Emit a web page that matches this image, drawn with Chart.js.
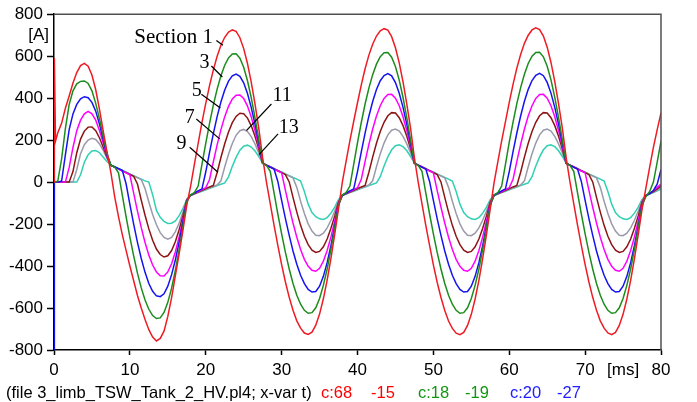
<!DOCTYPE html>
<html>
<head>
<meta charset="utf-8">
<script src="https://cdn.jsdelivr.net/npm/chart.js@4.4.1/dist/chart.umd.min.js"></script>
<style>
  html, body { margin: 0; padding: 0; background: #fff; }
  #wrap { width: 697px; height: 402px; }
</style>
</head>
<body>
<div id="wrap"><canvas id="currentChart" width="697" height="402"></canvas></div>
<script>
// sample times [ms]
const timeMs = [
  0, 0.05, 0.2, 0.5, 1, 1.5, 2, 2.5, 3, 3.5, 4, 4.5, 5, 5.5, 6, 6.5, 7, 7.5, 8, 8.5, 9, 9.5, 10, 10.5, 11, 11.5, 12, 12.5, 13, 13.5, 14, 14.5, 15, 15.5, 16, 16.5, 17, 17.5, 18, 18.5, 19, 19.5,
  20, 20.5, 21, 21.5, 22, 22.5, 23, 23.5, 24, 24.5, 25, 25.5, 26, 26.5, 27, 27.5, 28, 28.5, 29, 29.5, 30, 30.5, 31, 31.5, 32, 32.5, 33, 33.5, 34, 34.5, 35, 35.5, 36, 36.5, 37, 37.5, 38, 38.5, 39, 39.5,
  40, 40.5, 41, 41.5, 42, 42.5, 43, 43.5, 44, 44.5, 45, 45.5, 46, 46.5, 47, 47.5, 48, 48.5, 49, 49.5, 50, 50.5, 51, 51.5, 52, 52.5, 53, 53.5, 54, 54.5, 55, 55.5, 56, 56.5, 57, 57.5, 58, 58.5, 59, 59.5,
  60, 60.5, 61, 61.5, 62, 62.5, 63, 63.5, 64, 64.5, 65, 65.5, 66, 66.5, 67, 67.5, 68, 68.5, 69, 69.5, 70, 70.5, 71, 71.5, 72, 72.5, 73, 73.5, 74, 74.5, 75, 75.5, 76, 76.5, 77, 77.5, 78, 78.5, 79, 79.5,
  80
];

// currents [A], one array per section
const section1 = [
  0, 590, 195, 235, 280, 352, 410, 472, 522, 555, 566, 552, 510, 440, 345, 240, 140, 45, -70, -165, -250, -325, -400, -470, -540, -600, -655, -703, -738, -757, -745, -710, -640, -550, -445, -340, -228, -110, -20, 85, 185, 285,
  375, 460, 535, 600, 652, 690, 715, 725, 718, 688, 636, 565, 475, 370, 254, 115, 0, -103, -205, -301, -393, -476, -549, -611, -661, -696, -719, -726, -715, -682, -629, -556, -467, -363, -248, -126, 0, 100, 198, 290,
  378, 463, 540, 605, 657, 696, 721, 731, 724, 693, 640, 568, 477, 372, 255, 116, 0, -104, -206, -302, -394, -477, -550, -612, -662, -697, -720, -727, -716, -683, -630, -557, -468, -364, -249, -127, -2, 98, 196, 288,
  380, 466, 543, 608, 661, 700, 725, 735, 727, 696, 643, 570, 479, 373, 256, 117, 1, -103, -205, -301, -393, -476, -549, -611, -661, -696, -719, -727, -716, -683, -630, -557, -468, -365, -250, -130, -30, 70, 165, 250,
  330
];
const section3 = [
  0, 0, 0, 5, 110, 255, 370, 435, 468, 480, 482, 470, 435, 375, 300, 215, 135, 80, 72, 44, -62, -164, -262, -352, -434, -504, -562, -606, -636, -650, -647, -621, -573, -505, -419, -319, -209, -93, -61, -50, -19, 85,
  185, 280, 367, 443, 507, 557, 592, 610, 611, 590, 547, 483, 401, 305, 200, 90, 80, 51, -51, -152, -247, -335, -414, -483, -539, -582, -611, -625, -622, -599, -555, -492, -414, -321, -219, -112, -61, -50, -19, 85,
  188, 284, 372, 448, 512, 562, 598, 616, 617, 595, 551, 486, 403, 306, 200, 90, 80, 51, -51, -152, -247, -335, -414, -483, -539, -582, -611, -625, -622, -599, -555, -492, -414, -321, -219, -112, -61, -50, -19, 85,
  190, 286, 374, 450, 514, 565, 600, 618, 619, 597, 552, 487, 404, 307, 201, 90, 80, 51, -51, -152, -247, -335, -414, -483, -539, -582, -611, -625, -622, -599, -555, -492, -414, -321, -219, -112, -70, -45, 0, 95,
  195
];
const section5 = [
  -800, 0, 0, 0, 5, 130, 250, 325, 370, 397, 407, 402, 380, 338, 275, 200, 128, 80, 72, 64, 56, -8, -106, -200, -287, -364, -430, -483, -520, -542, -546, -532, -496, -441, -370, -285, -190, -90, -62, -52, -42, -32,
  48, 142, 231, 312, 382, 439, 481, 506, 515, 504, 473, 422, 355, 274, 185, 90, 80, 71, 62, 3, -87, -174, -254, -328, -391, -444, -484, -511, -524, -521, -496, -449, -384, -302, -209, -109, -62, -52, -42, -32,
  50, 144, 233, 314, 384, 441, 483, 508, 517, 506, 474, 423, 356, 275, 185, 90, 80, 71, 62, 3, -87, -174, -254, -328, -391, -444, -484, -511, -524, -521, -496, -449, -384, -302, -209, -109, -62, -52, -42, -32,
  50, 145, 234, 315, 385, 442, 484, 509, 518, 507, 475, 424, 356, 275, 185, 90, 80, 71, 62, 3, -87, -174, -254, -328, -391, -444, -484, -511, -524, -521, -496, -449, -384, -302, -209, -109, -65, -55, -40, -10,
  60
];
const section7 = [
  0, 0, 0, 0, 0, 0, 70, 165, 245, 295, 325, 337, 325, 295, 245, 185, 122, 80, 71, 62, 53, 44, 35, -53, -138, -217, -288, -348, -395, -428, -446, -447, -428, -389, -332, -260, -177, -88, -63, -54, -45, -36,
  -27, 12, 97, 177, 250, 312, 361, 396, 414, 415, 398, 362, 310, 244, 169, 90, 81, 72, 62, 53, 44, -39, -120, -195, -263, -321, -368, -401, -420, -425, -411, -377, -326, -261, -185, -102, -63, -54, -45, -36,
  -27, 13, 99, 179, 253, 315, 364, 399, 417, 418, 400, 364, 311, 245, 170, 90, 81, 72, 62, 53, 44, -39, -120, -195, -263, -321, -368, -401, -420, -425, -411, -377, -326, -261, -185, -102, -63, -54, -45, -36,
  -27, 13, 99, 179, 253, 315, 364, 399, 417, 418, 400, 364, 311, 245, 170, 90, 81, 72, 62, 53, 44, -39, -120, -195, -263, -321, -368, -401, -420, -425, -411, -377, -326, -261, -185, -102, -63, -54, -40, -25,
  -10
];
const section9 = [
  0, 0, 0, 0, 0, 0, 0, 50, 140, 205, 243, 262, 263, 245, 210, 165, 117, 80, 72, 63, 54, 45, 36, 27, -9, -86, -158, -223, -277, -319, -345, -357, -351, -326, -283, -226, -159, -85, -63, -55, -47, -39,
  -31, -23, -16, 46, 117, 183, 239, 283, 313, 328, 326, 305, 268, 217, 156, 90, 81, 72, 63, 54, 45, 36, 1, -73, -143, -206, -258, -298, -324, -335, -330, -308, -271, -220, -161, -95, -63, -55, -47, -39,
  -31, -23, -16, 47, 119, 185, 241, 285, 316, 331, 329, 307, 269, 218, 157, 90, 81, 72, 63, 54, 45, 36, 1, -73, -143, -206, -258, -298, -324, -335, -330, -308, -271, -220, -161, -95, -63, -55, -47, -39,
  -31, -23, -16, 47, 119, 185, 241, 285, 316, 331, 329, 307, 269, 218, 157, 90, 81, 72, 63, 54, 45, 36, 1, -73, -143, -206, -258, -298, -324, -335, -330, -308, -271, -220, -161, -95, -63, -55, -45, -32,
  -18
];
const section11 = [
  0, 0, 0, 0, 0, 0, 0, 0, 60, 135, 178, 200, 209, 203, 182, 150, 112, 80, 72, 64, 55, 46, 38, 29, 21, 12, -31, -95, -154, -203, -241, -264, -272, -263, -236, -195, -142, -82, -64, -57, -49, -42,
  -35, -28, -21, -14, 6, 72, 133, 184, 223, 245, 251, 241, 217, 181, 138, 90, 81, 72, 64, 55, 46, 37, 29, 20, -25, -91, -150, -199, -233, -253, -255, -243, -218, -182, -138, -88, -64, -57, -49, -42,
  -35, -28, -21, -14, 6, 73, 135, 186, 225, 247, 253, 243, 218, 182, 139, 90, 81, 72, 64, 55, 46, 37, 29, 20, -25, -91, -150, -199, -233, -253, -255, -243, -218, -182, -138, -88, -64, -57, -49, -42,
  -35, -28, -21, -14, 6, 73, 135, 186, 225, 247, 253, 243, 218, 182, 139, 90, 81, 72, 64, 55, 46, 37, 29, 20, -25, -91, -150, -199, -233, -253, -255, -243, -218, -182, -138, -88, -64, -57, -48, -38,
  -25
];
const section13 = [
  0, 0, 0, 0, 0, 0, 0, 0, 0, 35, 95, 130, 148, 150, 140, 118, 97, 82, 73, 65, 56, 48, 39, 31, 22, 14, 6, 0, -60, -135, -168, -187, -197, -196, -185, -160, -125, -82, -64, -57, -50, -44,
  -37, -30, -24, -17, -10, -4, 25, 75, 118, 152, 171, 176, 167, 148, 121, 90, 82, 73, 65, 56, 48, 39, 31, 22, 14, 5, -45, -105, -145, -165, -175, -178, -169, -148, -119, -83, -64, -57, -50, -44,
  -37, -30, -24, -17, -10, -4, 26, 77, 120, 154, 173, 178, 169, 149, 122, 90, 82, 73, 65, 56, 48, 39, 31, 22, 14, 5, -45, -105, -145, -165, -175, -178, -169, -148, -119, -83, -64, -57, -50, -44,
  -37, -30, -24, -17, -10, -4, 26, 77, 120, 154, 173, 178, 169, 149, 122, 90, 82, 73, 65, 56, 48, 39, 31, 22, 14, 5, -45, -105, -145, -165, -175, -178, -169, -148, -119, -83, -64, -57, -50, -42,
  -32
];

const sectionNames = ['Section 1', 'Section 3', 'Section 5', 'Section 7', 'Section 9', 'Section 11', 'Section 13'];
const sectionValues = [section1, section3, section5, section7, section9, section11, section13];
const sectionColors = ['#ee1c24', '#1c8c1c', '#1414f0', '#ff00ff', '#8c1414', '#9a9aaa', '#30d0b4'];

const xTickValues = [0, 10, 20, 30, 40, 50, 60, 70, 75, 80];
const xUnitTick = 75;

// curve labels (text anchor and leader line, in data coordinates)
const labelTexts = ['Section 1', '3', '5', '7', '9', '11', '13'];
const labelT = [15.77, 19.85, 18.80, 17.88, 16.82, 30.08, 30.94];
const labelV = [662, 544, 411, 283, 160, 388, 236];
const leaderFromT = [21.40, 20.74, 19.42, 18.76, 17.88, 28.65, 29.53];
const leaderFromV = [675, 553, 419, 301, 166, 372, 230];
const leaderToT = [22.27, 22.19, 21.93, 21.83, 21.61, 25.36, 27.02];
const leaderToV = [652, 501, 353, 206, 47, 245, 131];

const footerParts = [
  { text: '(file 3_limb_TSW_Tank_2_HV.pl4; x-var t)', x: 6, color: '#000' },
  { text: 'c:68', x: 321, color: '#ff0000' },
  { text: '-15', x: 371, color: '#ff0000' },
  { text: 'c:18', x: 418, color: '#129612' },
  { text: '-19', x: 465, color: '#129612' },
  { text: 'c:20', x: 510, color: '#2020ff' },
  { text: '-27', x: 557, color: '#2020ff' }
];

const frameAndNotes = {
  id: 'frameAndNotes',
  afterDatasetsDraw(chart) {
    const ctx = chart.ctx;
    const a = chart.chartArea;
    const x = chart.scales.x;
    const y = chart.scales.y;
    ctx.save();

    ctx.strokeStyle = '#505050';
    ctx.lineWidth = 1.5;
    ctx.beginPath();
    ctx.moveTo(a.left, a.top);
    ctx.lineTo(a.right, a.top);
    ctx.lineTo(a.right, a.bottom);
    ctx.stroke();

    ctx.fillStyle = '#000';
    ctx.strokeStyle = '#000';
    ctx.lineWidth = 1.2;
    ctx.textAlign = 'center';
    ctx.textBaseline = 'alphabetic';
    labelTexts.forEach((txt, i) => {
      ctx.font = (i === 0 ? 21 : 20) + 'px "Liberation Serif"';
      ctx.fillText(txt, x.getPixelForValue(labelT[i]), y.getPixelForValue(labelV[i]));
      ctx.beginPath();
      ctx.moveTo(x.getPixelForValue(leaderFromT[i]), y.getPixelForValue(leaderFromV[i]));
      ctx.lineTo(x.getPixelForValue(leaderToT[i]), y.getPixelForValue(leaderToV[i]));
      ctx.stroke();
    });

    ctx.font = '17px "Liberation Sans"';
    ctx.textAlign = 'right';
    ctx.textBaseline = 'middle';
    ctx.fillText('[A]', a.left - 5, y.getPixelForValue(700));

    ctx.font = '16.5px "Liberation Sans"';
    ctx.textAlign = 'left';
    footerParts.forEach(p => {
      ctx.fillStyle = p.color;
      ctx.fillText(p.text, p.x, 393);
    });
    ctx.restore();
  }
};

const datasets = sectionValues.map((vals, i) => ({
  label: sectionNames[i],
  data: timeMs.map((t, k) => ({ x: t, y: vals[k] })),
  borderColor: sectionColors[i],
  backgroundColor: sectionColors[i],
  borderWidth: 1.5,
  pointRadius: 0,
  tension: 0,
  fill: false
}));

const ctxCurrent = document.getElementById('currentChart').getContext('2d');
const currentChartInstance = new Chart(ctxCurrent, {
  type: 'line',
  data: { datasets: datasets },
  options: {
    responsive: false,
    animation: false,
    devicePixelRatio: 1,
    layout: { padding: { top: 13, right: 36, left: 0, bottom: 0 } },
    plugins: {
      legend: { display: false },
      tooltip: { enabled: false }
    },
    scales: {
      x: {
        type: 'linear',
        min: 0,
        max: 80,
        afterBuildTicks: scale => { scale.ticks = xTickValues.map(v => ({ value: v })); },
        afterFit: scale => { scale.height = 52; },
        grid: {
          drawOnChartArea: false,
          tickLength: 5,
          tickWidth: 1.5,
          tickColor: c => (c.tick && c.tick.value === xUnitTick) ? 'rgba(0,0,0,0)' : '#000'
        },
        border: { color: '#000', width: 1.5 },
        ticks: {
          autoSkip: false,
          maxRotation: 0,
          padding: 5,
          color: '#000',
          font: { family: 'Liberation Sans', size: 17 },
          callback: v => v === xUnitTick ? '[ms]' : String(v)
        }
      },
      y: {
        min: -800,
        max: 800,
        afterFit: scale => { scale.width = 54; },
        grid: {
          drawOnChartArea: false,
          tickLength: 7,
          tickWidth: 1.5,
          tickColor: '#000'
        },
        border: { color: '#000', width: 1.5 },
        ticks: {
          stepSize: 200,
          padding: 4,
          color: '#000',
          font: { family: 'Liberation Sans', size: 17 },
          callback: v => String(v)
        }
      }
    }
  },
  plugins: [frameAndNotes]
});
</script>
</body>
</html>
